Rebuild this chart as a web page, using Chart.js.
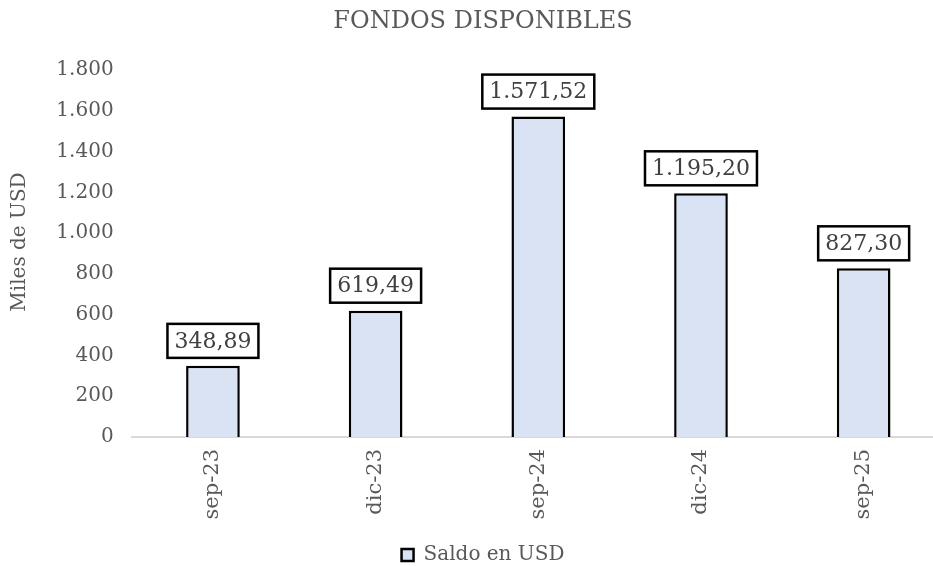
<!DOCTYPE html>
<html>
<head>
<meta charset="utf-8">
<script src="https://cdn.jsdelivr.net/npm/chart.js@4"></script>
<style>
  html, body { margin: 0; padding: 0; background: #ffffff; overflow: hidden; width: 933px; height: 566px; }
  #wrap { position: relative; width: 963px; height: 566px; }
</style>
</head>
<body>
<div id="wrap"><canvas id="c"></canvas></div>
<script>
const categories = ['sep-23', 'dic-23', 'sep-24', 'dic-24', 'sep-25'];
const saldoValues = [348.89, 619.49, 1571.52, 1195.20, 827.30];
const seriesName = 'Saldo en USD';
const chartTitle = 'FONDOS DISPONIBLES';
const yAxisTitle = 'Miles de USD';
const yMin = 0, yMax = 1800, yStep = 200;

const FONT = "'DejaVu Serif', 'Liberation Serif', serif";
const GRAY = '#595959';

function fmtThousands(v, decimals) {
  const neg = v < 0;
  let s = Math.abs(v).toFixed(decimals);
  let [ip, dp] = s.split('.');
  ip = ip.replace(/\B(?=(\d{3})+(?!\d))/g, '.');
  return (neg ? '-' : '') + ip + (dp !== undefined ? ',' + dp : '');
}

const dataLabelPlugin = {
  id: 'boxedLabels',
  afterDatasetsDraw(chart) {
    const ctx = chart.ctx;
    const meta = chart.getDatasetMeta(0);
    ctx.save();
    ctx.font = "22px " + FONT;
    ctx.textAlign = 'center';
    ctx.textBaseline = 'middle';
    meta.data.forEach((el, i) => {
      const txt = fmtThousands(chart.data.datasets[0].data[i], 2);
      const tw = ctx.measureText(txt).width;
      const w = tw + 14, h = 34;
      const bottom = el.y - 8;
      const x0 = el.x - w / 2, y0 = bottom - h;
      ctx.fillStyle = '#ffffff';
      ctx.fillRect(x0, y0, w, h);
      ctx.lineWidth = 2.5;
      ctx.strokeStyle = '#000000';
      ctx.strokeRect(x0, y0, w, h);
      ctx.fillStyle = '#404040';
      ctx.fillText(txt, el.x, y0 + h / 2 + 1);
    });
    ctx.restore();
  }
};

const yTitlePlugin = {
  id: 'yTitle',
  afterDraw(chart) {
    const ctx = chart.ctx;
    ctx.save();
    ctx.translate(20, 242);
    ctx.rotate(-Math.PI / 2);
    ctx.font = "20px " + FONT;
    ctx.fillStyle = GRAY;
    ctx.textAlign = 'center';
    ctx.textBaseline = 'middle';
    ctx.fillText(yAxisTitle, 0, 0);
    ctx.restore();
  }
};

new Chart(document.getElementById('c'), {
  type: 'bar',
  data: {
    labels: categories,
    datasets: [{
      label: seriesName,
      data: saldoValues,
      backgroundColor: '#DAE3F3',
      borderColor: '#000000',
      borderWidth: 2.5,
      barPercentage: 0.33,
      categoryPercentage: 1.0
    }]
  },
  options: {
    responsive: true,
    maintainAspectRatio: false,
    animation: false,
    devicePixelRatio: 1,
    layout: { padding: { left: 21, right: 18, top: 0, bottom: -9 } },
    plugins: {
      title: {
        display: true,
        text: chartTitle,
        color: GRAY,
        font: { family: FONT, size: 24, weight: 'normal' },
        padding: { top: 7, bottom: 34.2 }
      },
      legend: {
        display: true,
        position: 'bottom',
        labels: {
          color: GRAY,
          font: { family: FONT, size: 20 },
          boxWidth: 12,
          boxHeight: 12,
          padding: 2
        }
      },
      tooltip: { enabled: false }
    },
    scales: {
      x: {
        grid: { display: false, drawTicks: false },
        border: { display: true, color: '#D9D9D9', width: 2 },
        ticks: {
          color: GRAY,
          font: { family: FONT, size: 21 },
          minRotation: 90,
          maxRotation: 90,
          padding: 12
        },
        afterFit(scale) { scale.height = 106; }
      },
      y: {
        min: yMin,
        max: yMax,
        grid: { display: false, drawTicks: false },
        border: { display: false },
        ticks: {
          stepSize: yStep,
          color: GRAY,
          font: { family: FONT, size: 20 },
          padding: 18,
          callback: (v) => fmtThousands(v, 0)
        },
        afterFit(scale) { scale.width = 110.6; }
      }
    }
  },
  plugins: [dataLabelPlugin, yTitlePlugin]
});
</script>
</body>
</html>
